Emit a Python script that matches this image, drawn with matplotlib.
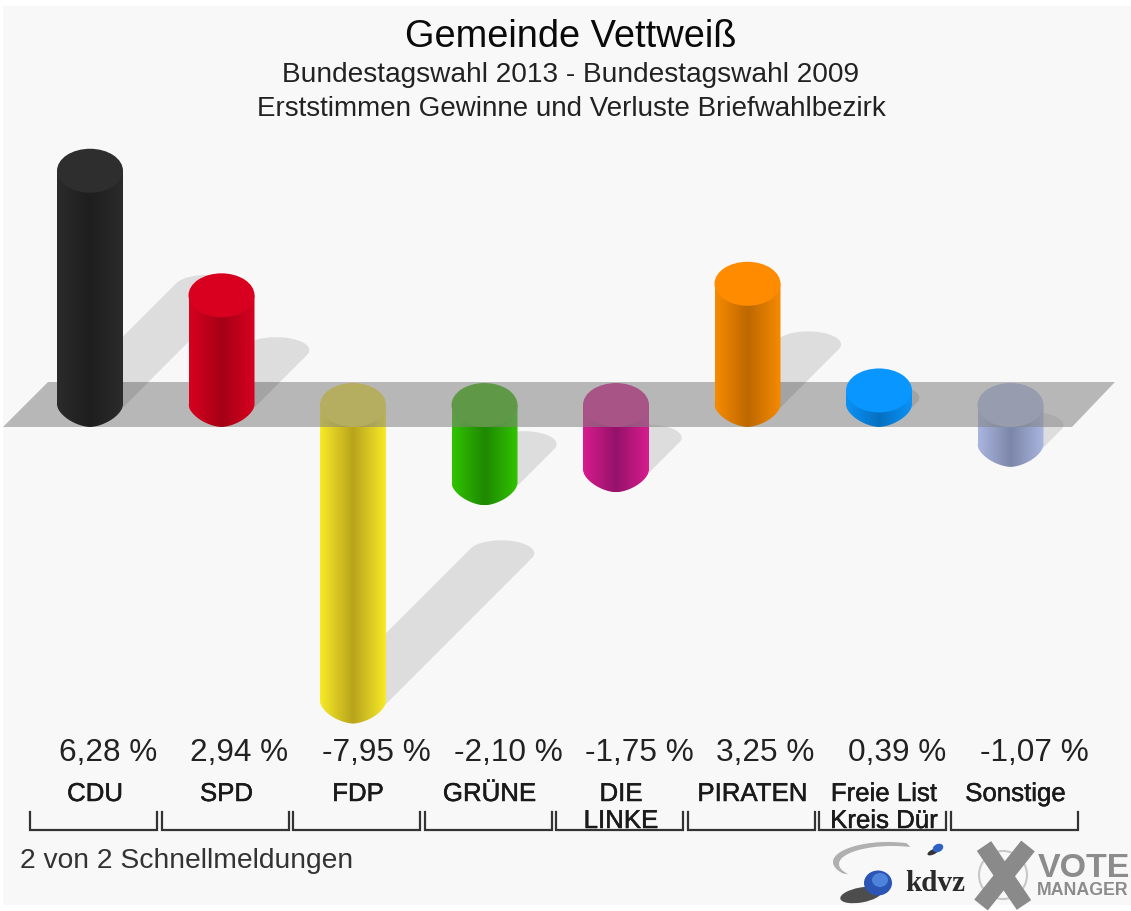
import numpy as np
import matplotlib
matplotlib.use("Agg")
import matplotlib.pyplot as plt
import matplotlib.patheffects as pe
from matplotlib.colors import LinearSegmentedColormap
from matplotlib.patches import Ellipse, PathPatch, Polygon, Rectangle, Circle
from matplotlib.path import Path
from matplotlib.transforms import Affine2D

parties = ["CDU", "SPD", "FDP", "GRÜNE", "DIE\nLINKE", "PIRATEN", "Freie List\nKreis Dür", "Sonstige"]
values = [6.28, 2.94, -7.95, -2.10, -1.75, 3.25, 0.39, -1.07]
value_labels = ["6,28 %", "2,94 %", "-7,95 %", "-2,10 %", "-1,75 %", "3,25 %", "0,39 %", "-1,07 %"]
cap_colors = ["#2e2e2e", "#d9001f", "#f2e234", "#34b400", "#d81c8e", "#ff8c00", "#0a96ff", "#b0bce6"]
edge_colors = ["#2b2b2b", "#d8001f", "#f8ea28", "#30c400", "#d81c8e", "#f78a00", "#0a92f8", "#aab6e0"]
mid_colors = ["#1e1e1e", "#a40016", "#b8a41c", "#1f8800", "#94126a", "#bd6800", "#0670c0", "#7c86a8"]
title = "Gemeinde Vettweiß"
subtitle1 = "Bundestagswahl 2013 - Bundestagswahl 2009"
subtitle2 = "Erststimmen Gewinne und Verluste Briefwahlbezirk"
footer = "2 von 2 Schnellmeldungen"

W, H = 1131, 911
X0, DX = 90.0, 131.5      # pixel x of first category, pixels per category
Y0, DY = 405.0, 37.3      # pixel y of zero, pixels per percent
HALF_W = 33 / DX
CAP_B = 22 / DY
SH_B = 13 / DY
SH_K = 0.5

plt.rcParams["font.family"] = ["Liberation Sans", "DejaVu Sans"]
fig = plt.figure(figsize=(W / 100, H / 100), dpi=100, facecolor="white")
ax = fig.add_axes([0, 0, 1, 1])
ax.axis("off")
px = Affine2D().scale(1 / W, -1 / H).translate(0, 1) + fig.transFigure


def dx(p):
    return (p - X0) / DX


def dy(p):
    return (Y0 - p) / DY


ax.add_patch(Rectangle((3, 6), 1128, 899, transform=px, fc="#f8f8f8", ec="none", zorder=0))


def shadow(cx, v, z):
    base = 0.0 if v > 0 else v
    d = SH_K * abs(v)
    sx = d * DY / DX
    t0 = np.arctan(-13 / 33)
    t1 = np.linspace(t0, t0 + np.pi, 40)
    t2 = np.linspace(t0 + np.pi, t0 + 2 * np.pi, 40)
    xs = np.r_[cx + sx + HALF_W * np.cos(t1), cx + HALF_W * np.cos(t2)]
    ys = np.r_[base + d + SH_B * np.sin(t1), base + SH_B * np.sin(t2)]
    ax.add_patch(Polygon(np.c_[xs, ys], closed=True, fc="black", alpha=0.105, ec="none", zorder=z))


def bar(cx, v, cap, edge, mid, z):
    top = max(v, 0.0)
    low = min(v, 0.0)
    u = np.linspace(1, -1, 60)
    p = 1.65
    bx = cx + HALF_W * u
    by = low - CAP_B * (1 - np.abs(u) ** p) ** (1 / p)
    verts = np.r_[[[cx - HALF_W, top], [cx + HALF_W, top]], np.c_[bx, by]]
    clip = PathPatch(Path(np.r_[verts, verts[:1]]), transform=ax.transData, fc="none", ec="none")
    cmap = LinearSegmentedColormap.from_list("b", [edge, mid, edge], N=256)
    grad = np.linspace(0, 1, 256)[None, :]
    im = ax.imshow(grad, cmap=cmap, aspect="auto", zorder=z, interpolation="bilinear",
                   extent=(cx - HALF_W, cx + HALF_W, low - CAP_B, top))
    im.set_clip_path(clip)
    ax.add_patch(Ellipse((cx, top), 2 * HALF_W, 2 * CAP_B, fc=cap, ec="none", zorder=z + 0.1))


xpos = np.arange(len(values))
for i, v in zip(xpos, values):
    shadow(i, v, 1 if v < 0 else 4)
for i, v, c, e, m in zip(xpos, values, cap_colors, edge_colors, mid_colors):
    bar(i, v, c, e, m, 2 if v < 0 else 5)

plane = [(dx(3), dy(427)), (dx(1072), dy(427)), (dx(1115), dy(382)), (dx(48), dy(382))]
ax.add_patch(Polygon(plane, closed=True, fc="#838383", alpha=0.55, ec="none", zorder=3))

ax.set_xlim(dx(0), dx(W))
ax.set_ylim(dy(H), dy(0))

# texts
bold_ish = [pe.withStroke(linewidth=0.35, foreground="#1a1a1a")]
ax.text(571, 47, title, transform=px, ha="center", va="baseline", fontsize=27.4, color="#0a0a0a", zorder=10)
ax.text(571, 82, subtitle1, transform=px, ha="center", va="baseline", fontsize=20.2, color="#222222", zorder=10)
ax.text(571, 116, subtitle2, transform=px, ha="center", va="baseline", fontsize=20.0, color="#222222", zorder=10)
ax.text(20, 868, footer, transform=px, ha="left", va="baseline", fontsize=20.3, color="#333333", zorder=10)

for i, (name, lab) in enumerate(zip(parties, value_labels)):
    c = X0 + DX * i
    ax.text(c - 31, 761, lab, transform=px, ha="left", va="baseline", fontsize=22.7, color="#222222", zorder=10)
    lines = name.split("\n")
    ax.text(c + 5, 801, lines[0], transform=px, ha="center", va="baseline", fontsize=18.6, color="#1a1a1a", zorder=10,
            path_effects=bold_ish)
    if len(lines) > 1:
        ax.text(c + 5, 828, lines[1], transform=px, ha="center", va="baseline", fontsize=18.6, color="#1a1a1a", zorder=10,
                path_effects=bold_ish)
    ax.plot([i - 60 / DX, i - 60 / DX, i + 67 / DX, i + 67 / DX], [dy(812), dy(830), dy(830), dy(812)],
            color="#333333", lw=1.6, solid_joinstyle="miter", zorder=9)

# kdvz logo
t = np.linspace(np.radians(70), np.radians(215), 60)
xo = 888 + 55 * np.cos(t)
yo = 862 - 20 * np.sin(t)
t2 = t[::-1]
xi = 892 + 53 * np.cos(t2)
yi = 864 - 18 * np.sin(t2)
ax.add_patch(Polygon(np.c_[np.r_[xo, xi], np.r_[yo, yi]], closed=True, transform=px, fc="#b0b0b0", ec="none", zorder=7))
ax.add_patch(Ellipse((861, 895), 42, 15, angle=-10, transform=px, fc="#222222", ec="none", alpha=0.8, zorder=7))
ax.add_patch(Ellipse((878, 883), 28, 25, transform=px, fc="#2a55b5", ec="none", zorder=8))
ax.add_patch(Ellipse((880, 880), 16, 14, transform=px, fc="#4d83db", ec="none", zorder=8.1))
ax.add_patch(Ellipse((933, 852), 12, 5, angle=-25, transform=px, fc="#333333", ec="none", zorder=7))
ax.add_patch(Ellipse((938, 848), 11, 8, angle=-25, transform=px, fc="#2f62c4", ec="none", zorder=8))
ax.text(935, 891, "kdvz", transform=px, ha="center", va="baseline", fontsize=21, fontweight="bold",
        family="Liberation Serif", color="#2a2a2a", zorder=8)

# VOTE MANAGER logo
ax.add_patch(Circle((1003, 875), 24, transform=px, fc="none", ec="#c8c8c8", lw=1.5, zorder=7))
ax.plot([984, 1024], [846, 905], transform=px, color="#8a8a8a", lw=12.5, solid_capstyle="butt", zorder=8)
ax.plot([1028, 981], [846, 905], transform=px, color="#8a8a8a", lw=12.5, solid_capstyle="butt", zorder=8)
ax.text(1038, 877, "VOTE", transform=px, ha="left", va="baseline", fontsize=24.5, fontweight="bold", color="#8c8c8c", zorder=8)
ax.text(1037, 895, "MANAGER", transform=px, ha="left", va="baseline", fontsize=12.8, fontweight="bold", color="#8c8c8c", zorder=8)

fig.savefig("out.png", dpi=100, facecolor="white")
